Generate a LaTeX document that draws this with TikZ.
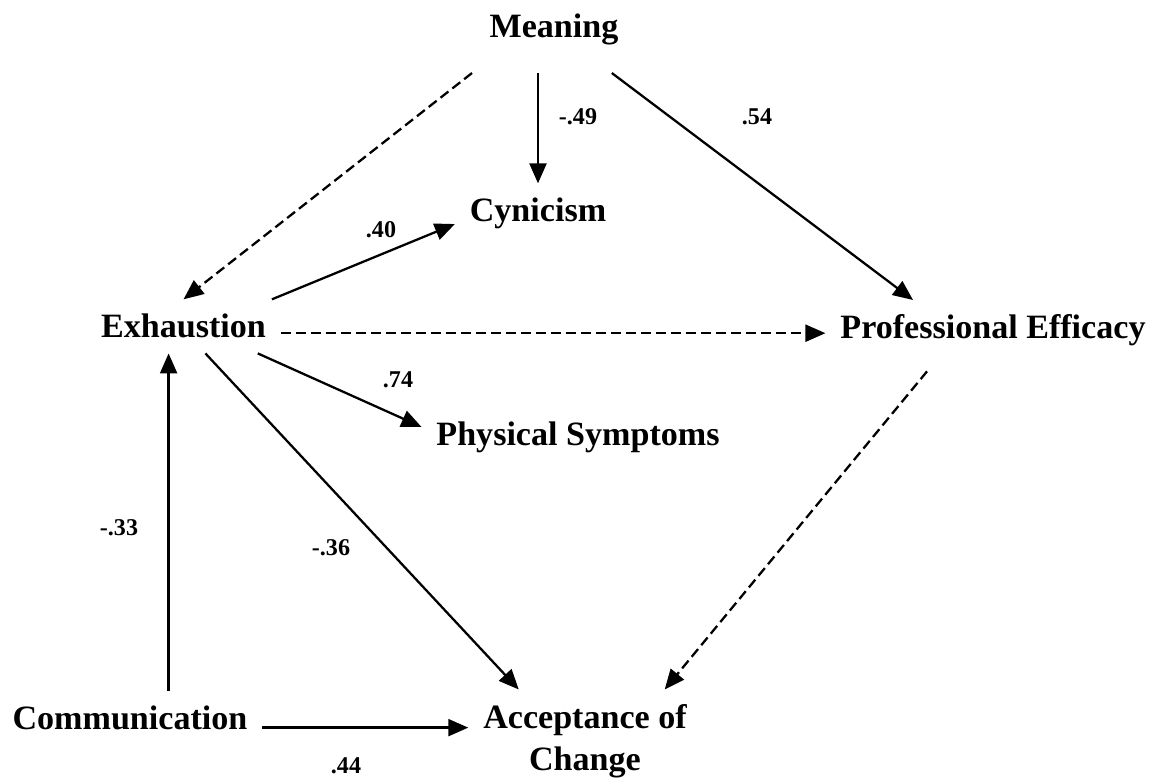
\documentclass[tikz,border=0pt]{standalone}
\usepackage{fontspec}
\setmainfont{Liberation Serif}
\usepackage{tikz}
\usetikzlibrary{arrows.meta}
\tikzstyle{arrow} = [line width=1.3pt,-{Triangle[length=0.4cm,width=0.34cm]}]
\tikzstyle{dasharrow} = [arrow, dash pattern=on 0.2cm off 0.1cm]
\tikzstyle{var} = [inner sep=0pt, outer sep=0.3cm, font=\fontsize{19.4}{23.9}\selectfont\bfseries]
\tikzstyle{coef} = [inner sep=0pt, font=\fontsize{13.7}{16}\selectfont\bfseries]

\begin{document}
\begin{tikzpicture}[x=0.02cm, y=-0.02cm]
      \useasboundingbox (0,0) rectangle (1161,780);
      \node (meaning) [var, anchor=base, outer sep=0.56cm] at (554,37.5) {Meaning};
      \node (cyn) [var, anchor=base] at (538,222) {Cynicism};
      \node (exh) [var, anchor=base] at (183.5,338) {Exhaustion};
      \node (pe) [var, anchor=base] at (993,339) {Professional Efficacy};
      \node (ps) [var, anchor=base] at (578,446) {Physical Symptoms};
      \node (comm) [var, anchor=base] at (130,730) {Communication};
      \node (aoc) [var, anchor=north, align=center] at (585,689.5) {Acceptance of\\Change};
      \draw [dasharrow] (meaning.208) -- (exh.north);
      \draw [arrow] (cyn.north |- meaning.south) -- (cyn.north);
      \draw [arrow] (meaning.323) -- (pe.159);
      \draw [arrow] (exh.17) -- (cyn.187);
      \draw [dasharrow] (exh.-4) -- (exh.-4 -| pe.west);
      \draw [arrow] (exh.-20) -- (ps.176);
      \draw [arrow] (exh.-51) -- (aoc.142);
      \draw [arrow] (comm.35) -- (comm.35 |- exh.south);
      \draw [arrow] (comm.-4) -- (comm.-4 -| aoc.west);
      \draw [dasharrow, shorten <=0.26cm] (pe.208) -- (aoc.33);
      \node (c49) [coef] at (578,117) {-.49};
      \node (c54) [coef] at (757,117) {.54};
      \node (c40) [coef] at (381,230) {.40};
      \node (c74) [coef] at (398,380) {.74};
      \node (c33) [coef] at (119,528) {-.33};
      \node (c36) [coef] at (331,548) {-.36};
      \node (c44) [coef] at (346,766) {.44};
\end{tikzpicture}
\end{document}
